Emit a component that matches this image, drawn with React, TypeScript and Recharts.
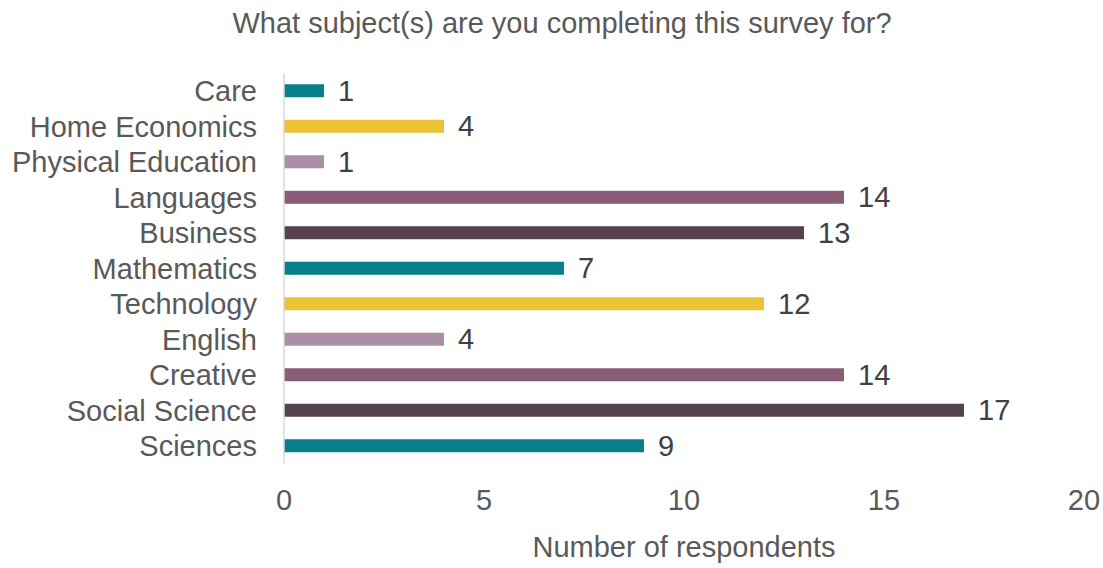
import { BarChart, Bar, XAxis, YAxis, Cell, LabelList } from 'recharts'

const subjects = [
  'Care',
  'Home Economics',
  'Physical Education',
  'Languages',
  'Business',
  'Mathematics',
  'Technology',
  'English',
  'Creative',
  'Social Science',
  'Sciences',
]
const respondents = [1, 4, 1, 14, 13, 7, 12, 4, 14, 17, 9]
const barColors = [
  '#07808c',
  '#ebc334',
  '#ab8fa6',
  '#8a5c77',
  '#54424f',
  '#07808c',
  '#ebc334',
  '#ab8fa6',
  '#8a5c77',
  '#54424f',
  '#07808c',
]
const xTicks = [0, 5, 10, 15, 20]

const data = subjects.map((name, i) => ({ name, value: respondents[i] }))

const FONT = '"Liberation Sans", Arial, sans-serif'
const FS = 29

function CategoryTick({ x, y, payload }: any) {
  return (
    <text x={x - 19} y={y + 10} textAnchor="end" fill="#595959" fontSize={FS} fontFamily={FONT}>
      {payload.value}
    </text>
  )
}

function ValueTick({ x, payload }: any) {
  return (
    <text x={x} y={510} textAnchor="middle" fill="#595959" fontSize={FS} fontFamily={FONT}>
      {payload.value}
    </text>
  )
}

function ValueLabel({ x, y, width, height, value }: any) {
  return (
    <text x={x + width + 14} y={y + height / 2 + 10} fill="#404040" fontSize={FS} fontFamily={FONT}>
      {value}
    </text>
  )
}

export default function App() {
  return (
    <div style={{ position: 'absolute', left: 0, top: 0, width: 1103, height: 568, background: '#fff' }}>
      <BarChart
        width={1103}
        height={568}
        data={data}
        layout="vertical"
        margin={{ top: 73.25, right: 19, bottom: 4.25, left: 0 }}
        barCategoryGap={0}
      >
        <text x={562} y={33} textAnchor="middle" fill="#595959" fontSize={FS} fontFamily={FONT}>
          What subject(s) are you completing this survey for?
        </text>
        <text x={684} y={557} textAnchor="middle" fill="#595959" fontSize={FS} fontFamily={FONT}>
          Number of respondents
        </text>
        <XAxis
          type="number"
          domain={[0, 20]}
          ticks={xTicks}
          axisLine={false}
          tickLine={false}
          height={100}
          tick={<ValueTick />}
        />
        <YAxis
          type="category"
          dataKey="name"
          width={284}
          axisLine={{ stroke: '#d9d9d9', strokeWidth: 1.5 }}
          tickLine={false}
          tick={<CategoryTick />}
        />
        <Bar dataKey="value" barSize={13} isAnimationActive={false}>
          {data.map((d, i) => (
            <Cell key={d.name} fill={barColors[i]} />
          ))}
          <LabelList dataKey="value" content={<ValueLabel />} />
        </Bar>
      </BarChart>
    </div>
  )
}
